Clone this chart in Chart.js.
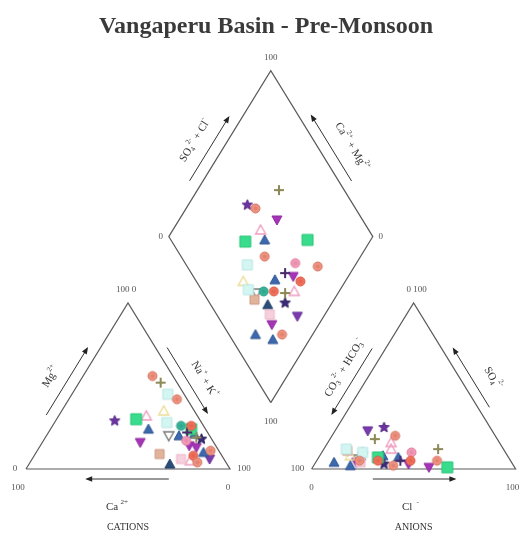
<!DOCTYPE html>
<html><head><meta charset="utf-8">
<script src="https://cdn.jsdelivr.net/npm/chart.js@4.4.1/dist/chart.umd.min.js"></script>
<style>html,body{margin:0;padding:0;background:#fff;}#wrap{width:520px;height:538px;}</style>
</head><body><div id="wrap"><canvas id="c" width="520" height="538"></canvas></div>
<script>
// ---------------- DATA (percent of meq) ----------------
const chartTitle = 'Vangaperu Basin - Pre-Monsoon';
const sampleIds  = ['S1','S2','S3','S4','S5','S6','S7','S8','S9','S10','S11','S12','S13','S14','S15','S16','S17','S18','S19','S20','S21','S22','S23','S24','S25','S26','S27','S28','S29','S30','S31','S32'];
const mgPct   = [56,52,45,42,29,30,32,24,16,28,20,26,24,26,22,18,13,10,11, 6, 4, 3, 6,21,20,19,14, 9,17, 8,35, 5];
const nakPct  = [34,40,47,53,29,39,43,48,48,55,60,63,69,68,68,77,77,82,85,87,82,69,73,72,65,74,73,61,70,78,50,78];
const caPct   = mgPct.map((m,i)=>100-m-nakPct[i]);
const so4Pct  = [20,12,10, 2,25, 7,16, 7, 1,12, 6,10, 1, 5, 5, 3, 4, 2, 5,23, 5, 8, 4, 4, 8,18, 3,11,10, 5, 8,12];
const clPct   = [31,56,20,39,23,29,31,39,57,11,20,20,66,30,41,34,20,18,21,16,59,20,22, 9,31,22,46,12,44,46,15,33];
const hco3Pct = so4Pct.map((s,i)=>100-s-clPct[i]);
const sampleGroup = ['salmon','olive','paleSq','salmon','pStar','gSq','pinkTri','bTri','mInv','paleSq','grayInv','teal','gSq','red','dPlus','nStar','mInv','bTri','salmon','pInv','salmon','nTri','pinkSq','bTri','bTri','olive','mInv','tanSq','pink','red','yelTri','pinkTri'];
const cationTicks = {top:'100 0', left:'0', bottomLeft:'100', bottomRight:'0', right:'100'};
const anionTicks  = {top:'0 100', left:'100', bottomLeft:'0', bottomRight:'100'};
const diamondTicks = {top:'100', left:'0', right:'0', bottom:'100'};

// ---------------- STYLES ----------------
const MARKERS = {
  salmon:  {shape:'circle', fill:'#ef9380', stroke:'#d47462', r:4.5},
  red:     {shape:'circle', fill:'#f0705a', stroke:'#d85a48', r:4.5},
  pink:    {shape:'circle', fill:'#f29ab8', stroke:'#dd7fa0', r:4.5},
  olive:   {shape:'plus',   fill:'#8e8a58', stroke:'#8e8a58', r:5},
  dPlus:   {shape:'plus',   fill:'#4a2a6a', stroke:'#4a2a6a', r:5},
  paleSq:  {shape:'square', fill:'#d4f6f3', stroke:'#b9e6e3', r:5},
  pinkSq:  {shape:'square', fill:'#f7d0de', stroke:'#ebb6c9', r:4.5},
  tanSq:   {shape:'square', fill:'#e2b39c', stroke:'#cf9c84', r:4.5},
  gSq:     {shape:'square', fill:'#38dc8c', stroke:'#2cc57a', r:5.5},
  teal:    {shape:'circle', fill:'#37b59a', stroke:'#2a9a82', r:4.5},
  pStar:   {shape:'star',   fill:'#6a33a0', stroke:'#5a2a8a', r:5.5},
  nStar:   {shape:'star',   fill:'#3b2a7a', stroke:'#2d2060', r:5.5},
  bTri:    {shape:'tri',    fill:'#3c68ad', stroke:'#2f5592', r:5},
  nTri:    {shape:'tri',    fill:'#2c4c7a', stroke:'#223c62', r:5},
  pinkTri: {shape:'openTri',fill:'#f2a8c8', stroke:'#ee9cc0', r:5},
  yelTri:  {shape:'openTri',fill:'#f3e6a8', stroke:'#ecdc96', r:5},
  mInv:    {shape:'inv',    fill:'#a634b8', stroke:'#8e2a9e', r:5},
  pInv:    {shape:'inv',    fill:'#7a3ab0', stroke:'#652e94', r:5},
  grayInv: {shape:'openInv',fill:'#888888', stroke:'#7a7a7a', r:5}
};
function makeMarker(m){
  const s = Math.ceil(m.r*2+6), c = document.createElement('canvas');
  c.width = s; c.height = s;
  const g = c.getContext('2d'), cx = s/2, cy = s/2, r = m.r;
  g.fillStyle = m.fill; g.strokeStyle = m.stroke; g.lineWidth = 1;
  g.beginPath();
  if (m.shape==='circle'){ g.arc(cx,cy,r,0,Math.PI*2); g.fill(); g.stroke(); g.globalAlpha=0.5; g.beginPath(); g.arc(cx,cy,r*0.45,0,Math.PI*2); g.fillStyle=m.stroke; g.fill(); }
  else if (m.shape==='square'){ g.rect(cx-r,cy-r,2*r,2*r); g.fill(); g.stroke(); }
  else if (m.shape==='tri'||m.shape==='openTri'){ g.moveTo(cx,cy-r); g.lineTo(cx+r,cy+r*0.8); g.lineTo(cx-r,cy+r*0.8); g.closePath(); if(m.shape==='tri'){g.fill();} g.lineWidth = m.shape==='tri'?1:1.4; g.stroke(); }
  else if (m.shape==='inv'||m.shape==='openInv'){ g.moveTo(cx,cy+r); g.lineTo(cx+r,cy-r*0.8); g.lineTo(cx-r,cy-r*0.8); g.closePath(); if(m.shape==='inv'){g.fill();} g.lineWidth = m.shape==='inv'?1:1.4; g.stroke(); }
  else if (m.shape==='star'){ for(let k=0;k<10;k++){ const a=-Math.PI/2+k*Math.PI/5, rr=k%2?r*0.45:r; const x=cx+rr*Math.cos(a), y=cy+rr*Math.sin(a); k?g.lineTo(x,y):g.moveTo(x,y);} g.closePath(); g.fill(); g.stroke(); }
  else if (m.shape==='plus'){ g.lineWidth=2; g.moveTo(cx-r,cy); g.lineTo(cx+r,cy); g.moveTo(cx,cy-r); g.lineTo(cx,cy+r); g.stroke(); g.beginPath(); g.arc(cx,cy,1.8,0,Math.PI*2); g.fill(); }
  return c;
}

// ---------------- GEOMETRY (triangle side = 1, V in triangle heights) ----------------
const GAP = 0.4;
function cationXY(i){ const mg=mgPct[i]/100, nk=nakPct[i]/100; return {x:0.5*mg+nk, y:mg}; }
function anionXY(i){ const s=so4Pct[i]/100, c=clPct[i]/100; return {x:1+GAP+0.5*s+c, y:s}; }
function diamondXY(i){ const nk=nakPct[i]/100, sc=(so4Pct[i]+clPct[i])/100; const t=1+GAP+sc-nk; return {x:nk+0.5*t, y:t}; }
const CAT = [{x:0,y:0},{x:1,y:0},{x:0.5,y:1}];
const AN  = [{x:1+GAP,y:0},{x:2+GAP,y:0},{x:1.5+GAP,y:1}];
const DIA = [{x:1+GAP/2,y:GAP},{x:0.5+GAP/2,y:1+GAP},{x:1+GAP/2,y:2+GAP},{x:1.5+GAP/2,y:1+GAP}];

const groups = Object.keys(MARKERS);
const pointSets = groups.map(gname=>{
  const data=[];
  sampleIds.forEach((id,i)=>{ if(sampleGroup[i]===gname){ data.push(cationXY(i), anionXY(i), diamondXY(i)); } });
  const img = makeMarker(MARKERS[gname]);
  return {label:gname, data, pointStyle:img, pointRadius:MARKERS[gname].r, pointHoverRadius:MARKERS[gname].r, showLine:false};
}).filter(d=>d.data.length);
const outline = (pts)=>({label:'outline', data:[...pts, pts[0]], showLine:true, borderColor:'#5a5a5a', borderWidth:1.2, pointRadius:0, fill:false, tension:0});

// ---------------- DECORATION PLUGIN ----------------
function richText(ctx, parts, size){
  let w=0; parts.forEach(p=>{ ctx.font=(p[1]==='n'?size:size*0.65)+'px "Liberation Serif"'; w+=ctx.measureText(p[0]).width; });
  let x=-w/2;
  parts.forEach(p=>{ const sz=p[1]==='n'?size:size*0.65; ctx.font=sz+'px "Liberation Serif"'; const dy=p[1]==='sub'?size*0.3:(p[1]==='sup'?-size*0.45:0); ctx.fillText(p[0],x,dy); x+=ctx.measureText(p[0]).width; });
}
const deco = {
  id:'deco',
  afterDatasetsDraw(chart){
    const ctx=chart.ctx, xs=chart.scales.x, ys=chart.scales.y;
    const P=(p)=>({x:xs.getPixelForValue(p.x), y:ys.getPixelForValue(p.y)});
    ctx.save();
    ctx.fillStyle='#3a3a3a'; ctx.textAlign='center'; ctx.textBaseline='middle';
    ctx.font='bold 24px "Liberation Serif"'; ctx.fillText(chartTitle, 266, 27);
    function edgeArrow(A,B,f0,f1,off,headAtEnd){
      const a=P(A), b=P(B); const dx=b.x-a.x, dy=b.y-a.y, L=Math.hypot(dx,dy); const ux=dx/L, uy=dy/L;
      const nx=uy, ny=-ux;
      const p0={x:a.x+ux*L*f0+nx*off, y:a.y+uy*L*f0+ny*off}, p1={x:a.x+ux*L*f1+nx*off, y:a.y+uy*L*f1+ny*off};
      ctx.strokeStyle='#333'; ctx.fillStyle='#222'; ctx.lineWidth=1;
      ctx.beginPath(); ctx.moveTo(p0.x,p0.y); ctx.lineTo(p1.x,p1.y); ctx.stroke();
      const h = headAtEnd?p1:p0, sx = headAtEnd?ux:-ux, sy = headAtEnd?uy:-uy;
      ctx.beginPath(); ctx.moveTo(h.x+sx*2,h.y+sy*2); ctx.lineTo(h.x-sx*5+sy*2.8,h.y-sy*5-sx*2.8); ctx.lineTo(h.x-sx*5-sy*2.8,h.y-sy*5+sx*2.8); ctx.closePath(); ctx.fill();
    }
    function edgeLabel(A,B,f,off,parts,size){
      const a=P(A), b=P(B); const dx=b.x-a.x, dy=b.y-a.y, L=Math.hypot(dx,dy); const ux=dx/L, uy=dy/L; const nx=uy, ny=-ux;
      let ang=Math.atan2(dy,dx); if(ang>Math.PI/2) ang-=Math.PI; if(ang<-Math.PI/2) ang+=Math.PI;
      ctx.save(); ctx.translate(a.x+ux*L*f+nx*off, a.y+uy*L*f+ny*off); ctx.rotate(ang);
      ctx.fillStyle='#333'; ctx.textAlign='left'; ctx.textBaseline='middle'; richText(ctx,parts,size||11); ctx.restore();
    }
    // cation triangle
    edgeArrow(CAT[0],CAT[2],0.29,0.69,11,true);
    edgeLabel(CAT[0],CAT[2],0.47,27,[['Mg','n'],['2+','sup']]);
    edgeArrow(CAT[2],CAT[1],0.30,0.69,10,true);
    edgeLabel(CAT[2],CAT[1],0.54,25,[['Na','n'],['+','sup'],[' + K','n'],['+','sup']]);
    edgeArrow(CAT[1],CAT[0],0.30,0.70,10,true);
    // anion triangle
    edgeArrow(AN[2],AN[0],0.31,0.70,-11.5,true);
    edgeLabel(AN[2],AN[0],0.47,-25,[['CO','n'],['3','sub'],['2-','sup'],[' + HCO','n'],['3','sub'],['-','sup']]);
    edgeArrow(AN[1],AN[2],0.34,0.69,-10,true);
    edgeLabel(AN[1],AN[2],0.46,-28,[['SO','n'],['4','sub'],['2-','sup']]);
    edgeArrow(AN[0],AN[1],0.30,0.70,-10,true);
    // diamond upper edges
    edgeArrow(DIA[1],DIA[2],0.30,0.68,11.5,true);
    edgeLabel(DIA[1],DIA[2],0.49,28,[['SO','n'],['4','sub'],['2-','sup'],[' + Cl','n'],['-','sup']]);
    edgeArrow(DIA[3],DIA[2],0.30,0.69,-11,true);
    edgeLabel(DIA[3],DIA[2],0.45,-29,[['Ca','n'],['2+','sup'],[' + Mg','n'],['2+','sup']]);
    // tick labels
    ctx.fillStyle='#555'; ctx.textAlign='center'; ctx.textBaseline='middle'; ctx.font='9px "Liberation Serif"';
    const c0=P(CAT[0]), c1=P(CAT[1]), c2=P(CAT[2]);
    ctx.fillText(cationTicks.top, c2.x-2, c2.y-13);
    ctx.fillText(cationTicks.left, c0.x-11, c0.y);
    ctx.fillText(cationTicks.bottomLeft, c0.x-8, c0.y+19);
    ctx.fillText(cationTicks.bottomRight, c1.x-2, c1.y+19);
    ctx.fillText(cationTicks.right, c1.x+14, c1.y);
    const a0=P(AN[0]), a1=P(AN[1]), a2=P(AN[2]);
    ctx.fillText(anionTicks.top, a2.x+3, a2.y-13);
    ctx.fillText(anionTicks.left, a0.x-14, a0.y);
    ctx.fillText(anionTicks.bottomLeft, a0.x, a0.y+19);
    ctx.fillText(anionTicks.bottomRight, a1.x-3, a1.y+19);
    const d0=P(DIA[0]), d1=P(DIA[1]), d2=P(DIA[2]), d3=P(DIA[3]);
    ctx.fillText(diamondTicks.top, d2.x, d2.y-13);
    ctx.fillText(diamondTicks.left, d1.x-8, d1.y);
    ctx.fillText(diamondTicks.right, d3.x+8, d3.y);
    ctx.fillText(diamondTicks.bottom, d0.x, d0.y+19);
    ctx.fillStyle='#333';
    ctx.save(); ctx.translate((c0.x+c1.x)/2-6, c0.y+38); richText(ctx,[['Ca','n'],['2+','sup']],11); ctx.restore();
    ctx.save(); ctx.translate((a0.x+a1.x)/2, a0.y+38); richText(ctx,[['Cl','n'],['-','sup']],11); ctx.restore();
    ctx.font='10px "Liberation Serif"'; ctx.textAlign='center';
    ctx.fillText('CATIONS', (c0.x+c1.x)/2, c0.y+58);
    ctx.fillText('ANIONS', (a0.x+a1.x)/2, a0.y+58);
    ctx.restore();
  }
};

new Chart(document.getElementById('c'), {
  type:'scatter',
  data:{datasets:[...pointSets, outline(CAT), outline(AN), outline(DIA)]},
  options:{
    responsive:false, animation:false, devicePixelRatio:1,
    layout:{padding:0, autoPadding:false},
    scales:{
      x:{type:'linear', min:-26/204, max:494/204, display:false},
      y:{type:'linear', min:-69/166, max:469/166, display:false}
    },
    plugins:{legend:{display:false}, tooltip:{enabled:false}, title:{display:false}}
  },
  plugins:[deco]
});
</script></body></html>
